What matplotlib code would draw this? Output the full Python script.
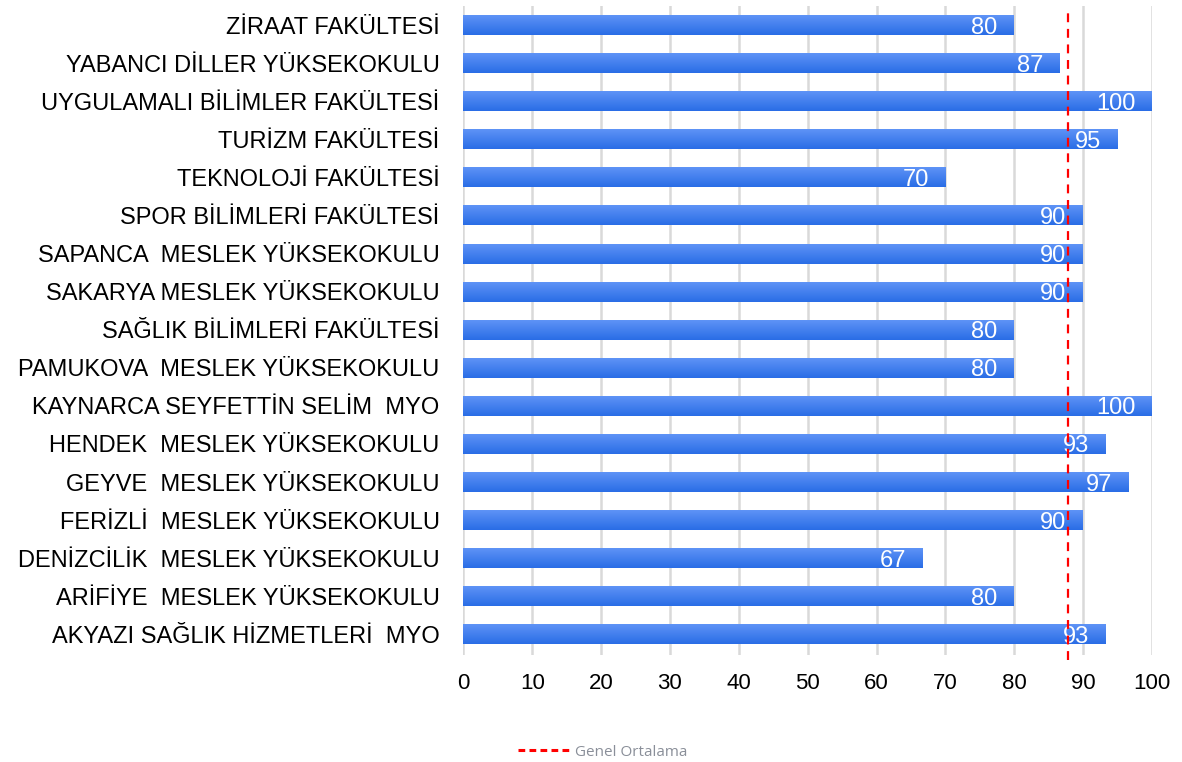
import matplotlib.pyplot as plt
import numpy as np
from matplotlib.colors import LinearSegmentedColormap

plt.rcParams['font.family'] = ['Liberation Sans', 'DejaVu Sans']

# units, bottom to top as drawn
units = [
    "AKYAZI SAĞLIK HİZMETLERİ  MYO",
    "ARİFİYE  MESLEK YÜKSEKOKULU",
    "DENİZCİLİK  MESLEK YÜKSEKOKULU",
    "FERİZLİ  MESLEK YÜKSEKOKULU",
    "GEYVE  MESLEK YÜKSEKOKULU",
    "HENDEK  MESLEK YÜKSEKOKULU",
    "KAYNARCA SEYFETTİN SELİM  MYO",
    "PAMUKOVA  MESLEK YÜKSEKOKULU",
    "SAĞLIK BİLİMLERİ FAKÜLTESİ",
    "SAKARYA MESLEK YÜKSEKOKULU",
    "SAPANCA  MESLEK YÜKSEKOKULU",
    "SPOR BİLİMLERİ FAKÜLTESİ",
    "TEKNOLOJİ FAKÜLTESİ",
    "TURİZM FAKÜLTESİ",
    "UYGULAMALI BİLİMLER FAKÜLTESİ",
    "YABANCI DİLLER YÜKSEKOKULU",
    "ZİRAAT FAKÜLTESİ",
]
scores = [93.33, 80, 66.67, 90, 96.67, 93.33, 100, 80, 80, 90, 90, 90, 70, 95, 100, 86.67, 80]
genel_ortalama = 87.8

fig = plt.figure(figsize=(11.82, 7.62), dpi=100)
ax = fig.add_axes([0.392, 0.140, 0.5826, 0.852])

y = np.arange(len(units))
h = 0.52
bars = ax.barh(y, scores, height=h, color="none", zorder=2)

# vertical gradient inside each bar: darker at the bottom, lighter on top
blue = LinearSegmentedColormap.from_list("blu", ["#2a6de6", "#5e93f6"])
grad = np.linspace(0, 1, 32).reshape(-1, 1)
for b, v in zip(bars, scores):
    ax.imshow(grad, extent=[0, v, b.get_y(), b.get_y() + h], origin="lower",
              aspect="auto", cmap=blue, zorder=2, interpolation="bilinear")
    ax.text(v - 2.4, b.get_y() + h / 2, f"{v:.0f}",
            ha="right", va="center_baseline", color="white", fontsize=17, zorder=3)

ax.vlines(genel_ortalama, -0.68, 16.35, colors="#ff0000", linestyles=(0, (4, 3)),
          linewidth=1.6, zorder=4, clip_on=False, label="Genel Ortalama")

ax.set_xlim(0, 100)
ax.set_ylim(-0.55, 16.5)
ax.set_xticks(np.arange(0, 101, 10))
ax.set_yticks(y)
ax.set_yticklabels(units)
ax.tick_params(axis="y", length=0, pad=17, labelsize=17)
ax.tick_params(axis="x", length=0, pad=13, labelsize=16)
ax.grid(axis="x", color="#d9d9d9", linewidth=1.8, zorder=0)
ax.set_axisbelow(True)
for s in ax.spines.values():
    s.set_visible(False)

leg = fig.legend(loc="lower center", bbox_to_anchor=(0.51, -0.015), frameon=False,
                 prop={"family": "Open Sans", "size": 11}, handlelength=3.4,
                 handletextpad=0.3, labelcolor="#8a8f99")
leg.get_lines()[0].set_linestyle((0, (2.2, 1.4)))
leg.get_lines()[0].set_linewidth(2.2)
plt.savefig("out.png", dpi=100)
